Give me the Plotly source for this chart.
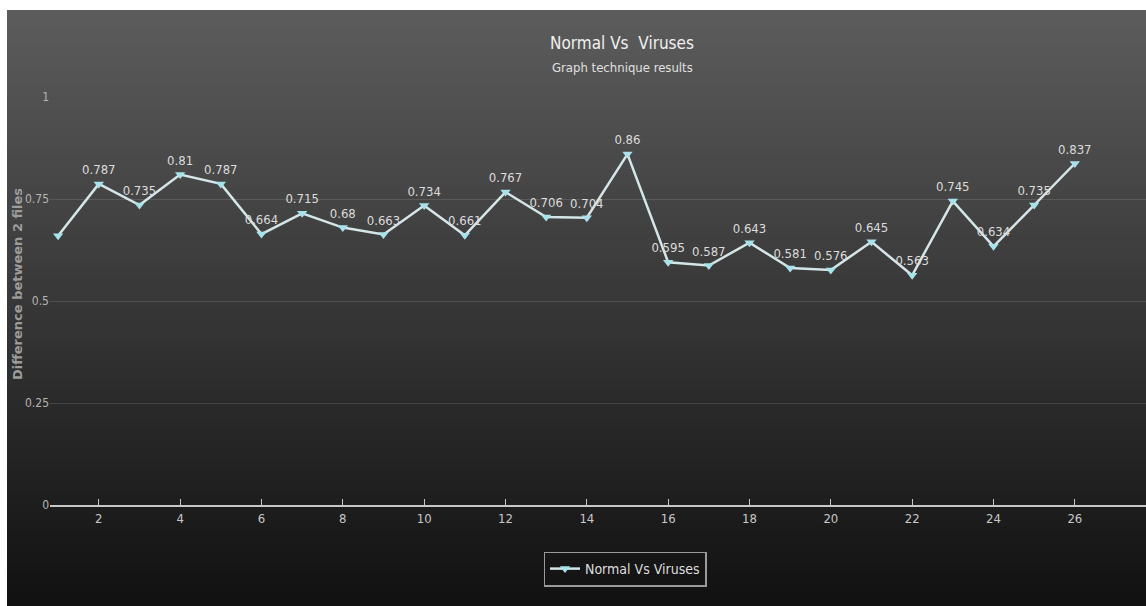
import plotly.graph_objects as go

# Series data
samples = list(range(1, 27))
difference = [0.66, 0.787, 0.735, 0.81, 0.787, 0.664, 0.715, 0.68, 0.663, 0.734,
              0.661, 0.767, 0.706, 0.704, 0.86, 0.595, 0.587, 0.643, 0.581, 0.576,
              0.645, 0.563, 0.745, 0.634, 0.735, 0.837]
x_ticks = list(range(2, 27, 2))
y_ticks = [0, 0.25, 0.5, 0.75, 1]
y_tick_text = ["0", "0.25", "0.5", "0.75", "1"]

labels = [""] + [f"{v:g}" for v in difference[1:]]

NARROW = "Liberation Sans Narrow, DejaVu Sans Condensed, Arial Narrow, sans-serif"

W, H = 1146, 606
ML, MR, MT, MB = 50, 0, 97, 101
PW, PH = W - ML - MR, H - MT - MB


def px_x(px):
    return (px - ML) / PW


def px_y(py):
    return (H - MB - py) / PH


fig = go.Figure()
fig.add_trace(go.Scatter(
    x=samples, y=difference, mode="lines+markers+text",
    name="Normal Vs Viruses",
    text=labels, textposition="top center",
    textfont=dict(family=NARROW, size=13, color="#dcdcdc"),
    line=dict(color="#d4e6e8", width=2.5),
    marker=dict(symbol="triangle-down", size=9, color="#a8e2ea"),
    cliponaxis=False,
))

# Vertical dark gradient backdrop: each band runs to the bottom so the
# next (darker) band covers it without seams
shapes = []
top_px, bot_px, left_px = 10, H, 7
steps = 90
c0, c1 = (92, 92, 92), (17, 17, 17)
for i in range(steps):
    t = i / (steps - 1)
    col = tuple(round(c0[k] + (c1[k] - c0[k]) * t) for k in range(3))
    y_a = top_px + (bot_px - top_px) * i / steps
    shapes.append(dict(
        type="rect", xref="paper", yref="paper", layer="below",
        x0=px_x(left_px), x1=1.0, y0=px_y(bot_px), y1=px_y(y_a),
        fillcolor=f"rgb{col}", line=dict(width=0),
    ))

fig.update_layout(
    width=W, height=H,
    margin=dict(l=ML, r=MR, t=MT, b=MB),
    paper_bgcolor="white",
    plot_bgcolor="rgba(0,0,0,0)",
    shapes=shapes,
    showlegend=True,
    legend=dict(
        x=px_x(625), y=px_y(569), xanchor="center", yanchor="middle",
        bgcolor="rgba(0,0,0,0)", bordercolor="#9a9a9a", borderwidth=1.5,
        font=dict(family=NARROW, size=14, color="#dedede"),
    ),
    annotations=[
        dict(text="Normal Vs  Viruses", xref="paper", yref="paper",
             x=px_x(622), y=px_y(43), xanchor="center", yanchor="middle",
             showarrow=False, font=dict(family=NARROW, size=17, color="#f0f0f0")),
        dict(text="Graph technique results", xref="paper", yref="paper",
             x=px_x(622), y=px_y(67), xanchor="center", yanchor="middle",
             showarrow=False, font=dict(family=NARROW, size=13, color="#e0e0e0")),
        dict(text="<b>Difference between 2 files</b>", xref="paper", yref="paper",
             x=px_x(17), y=px_y(284), xanchor="center", yanchor="middle",
             textangle=-90, showarrow=False,
             font=dict(family="DejaVu Sans, sans-serif", size=13, color="#9c9c9c")),
    ],
    xaxis=dict(
        range=[0.8, 27.75], tickvals=x_ticks,
        showgrid=False, zeroline=False,
        showline=True, linecolor="#c8c8c8", linewidth=2,
        ticks="inside", ticklen=6, tickcolor="#c8c8c8",
        tickfont=dict(family=NARROW, size=13, color="#c8c8c8"),
    ),
    yaxis=dict(
        range=[0, 1], tickvals=y_ticks, ticktext=y_tick_text,
        showgrid=True, gridcolor="rgba(255,255,255,0.12)", gridwidth=1,
        zeroline=False, showline=False, ticks="",
        tickfont=dict(family=NARROW, size=12, color="#b4b4b4"),
    ),
)

fig.write_html("out.html")
